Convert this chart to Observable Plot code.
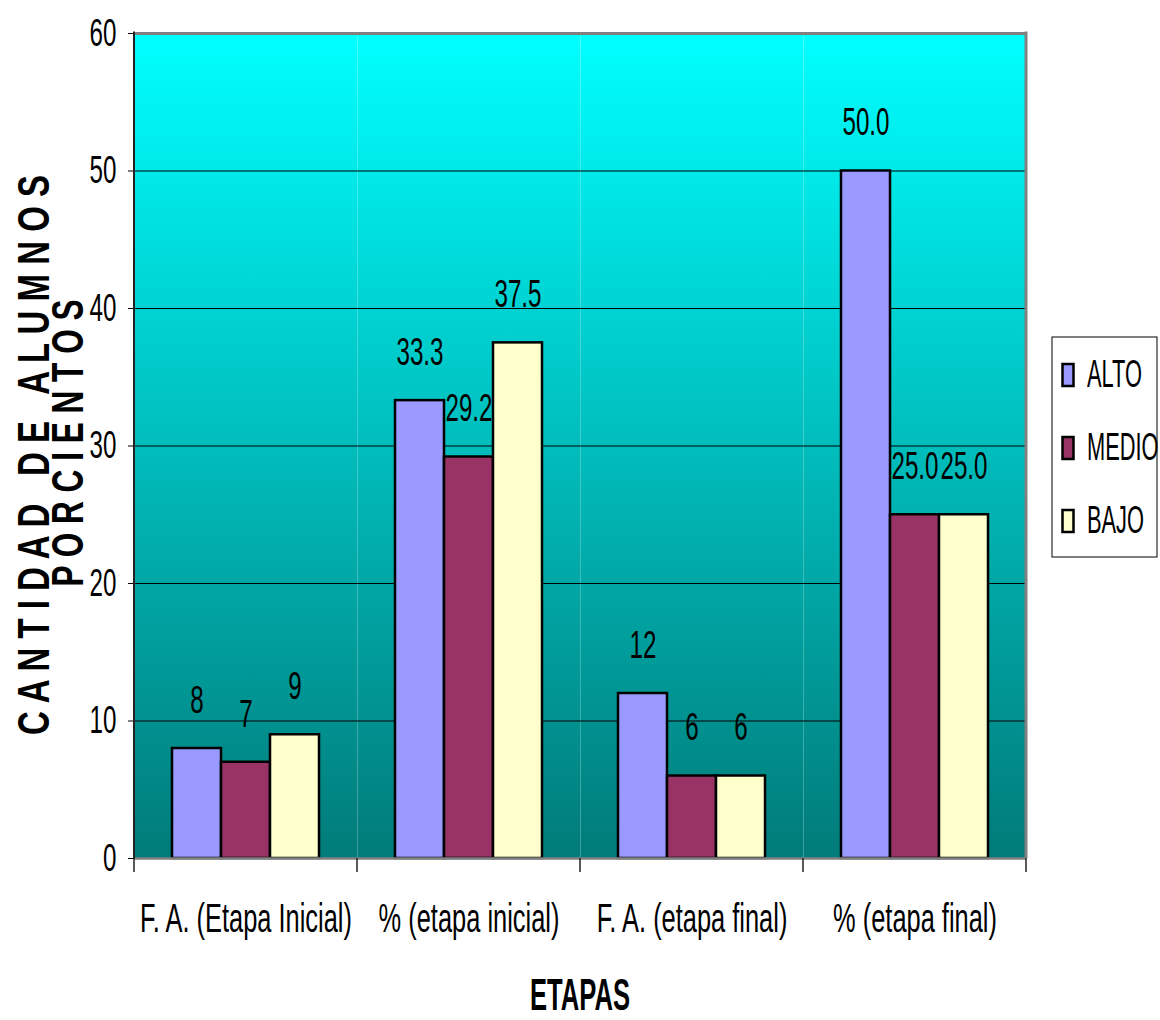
<!DOCTYPE html>
<html>
<head>
<meta charset="utf-8">
<script src="https://cdn.jsdelivr.net/npm/d3@7"></script>
<script src="https://cdn.jsdelivr.net/npm/@observablehq/plot@0.6"></script>
<style>
  body { margin: 0; background: #fff; }
  #chart { width: 1160px; height: 1020px; }
</style>
</head>
<body>
<div id="chart"></div>
<script>
const categories = ["F. A. (Etapa Inicial)", "% (etapa inicial)", "F. A. (etapa final)", "% (etapa final)"];
const seriesNames = ["ALTO", "MEDIO", "BAJO"];
const altoValues = [8, 33.3, 12, 50.0];
const medioValues = [7, 29.2, 6, 25.0];
const bajoValues = [9, 37.5, 6, 25.0];
const labelDecimals = [0, 1, 0, 1];
const seriesColors = ["#9999FF", "#993366", "#FFFFCC"];
const yTicks = [0, 10, 20, 30, 40, 50, 60];
const yTitle1 = "C A N T I D A D   D E   A L U M N O S";
const yTitle2 = "P O R C I E N T O S";
const xTitle = "ETAPAS";

const rows = [];
categories.forEach((c, i) => {
  [altoValues, medioValues, bajoValues].forEach((vals, j) => {
    rows.push({category: c, series: seriesNames[j], value: vals[i], label: vals[i].toFixed(labelDecimals[i])});
  });
});

const FONT = "'Liberation Sans', Arial, sans-serif";

const plot = Plot.plot({
  width: 1160,
  height: 1020,
  marginLeft: 133,
  marginRight: 133,
  marginTop: 33,
  marginBottom: 162,
  style: {fontFamily: FONT, background: "transparent", overflow: "visible"},
  fx: {domain: categories, padding: 0, label: null},
  x: {domain: seriesNames, paddingInner: 0, paddingOuter: 0.735, axis: null},
  y: {domain: [0, 60], label: null},
  color: {domain: seriesNames, range: seriesColors},
  marks: [
    Plot.frame({fill: "url(#bgGrad)", stroke: "none"}),
    Plot.gridY(yTicks.filter(t => t > 0 && t < 60), {stroke: "#000", strokeOpacity: 1, strokeWidth: 1}),
    Plot.ruleY([60], {stroke: "#808080", strokeWidth: 3}),
    Plot.barY(rows, {fx: "category", x: "series", y: "value", fill: "series", stroke: "#000", strokeWidth: 2.5}),
    Plot.ruleY([0], {stroke: "#808080", strokeWidth: 2.5}),
    Plot.text(rows, {fx: "category", x: "series", y: "value", text: "label", dy: -48, fontSize: 39, fill: "#000"}),
    Plot.axisY({ticks: yTicks, tickSize: 6, tickPadding: 12, fontSize: 39, label: null, color: "#000"}),
    Plot.axisFx({anchor: "bottom", tickSize: 0, tickPadding: 44, fontSize: 41, label: null, color: "#000"})
  ]
});

const svgEl = plot.tagName.toLowerCase() === "svg" ? plot : plot.querySelector("svg");
const svg = d3.select(svgEl);

// gradient background
const defs = svg.insert("defs", ":first-child");
const grad = defs.append("linearGradient").attr("id", "bgGrad")
  .attr("x1", 0).attr("y1", 0).attr("x2", 0).attr("y2", 1);
grad.append("stop").attr("offset", "0%").attr("stop-color", "#00FFFF");
grad.append("stop").attr("offset", "100%").attr("stop-color", "#007B79");

// condense glyphs of Plot texts (tall narrow lettering)
svg.selectAll("text").each(function() {
  const g = this.closest("g");
  const aria = g ? (g.getAttribute("aria-label") || "") : "";
  const k = aria.includes("fx-axis") ? 0.58 : 0.62;
  const t = this.getAttribute("transform") || "";
  this.setAttribute("transform", t + ` scale(${k},1)`);
});

// frame edges and category boundary ticks from the scales
let left = 133, right = 1027, step = 223.5, yTop = 33, yBottom = 858;
try {
  const fx = plot.scale("fx");
  const ys = plot.scale("y");
  left = fx.apply(categories[0]);
  step = fx.step || fx.bandwidth;
  right = fx.apply(categories[categories.length - 1]) + fx.bandwidth;
  yTop = ys.apply(60);
  yBottom = ys.apply(0);
} catch (e) {}

const edges = svg.append("g");
edges.append("line").attr("x1", right).attr("x2", right).attr("y1", yTop - 1.5).attr("y2", yBottom)
  .attr("stroke", "#808080").attr("stroke-width", 3);
edges.append("line").attr("x1", left).attr("x2", left).attr("y1", yTop - 1.5).attr("y2", yBottom + 1)
  .attr("stroke", "#222").attr("stroke-width", 2);
for (let i = 0; i <= categories.length; i++) {
  const xb = left + i * step;
  edges.append("line").attr("x1", xb).attr("x2", xb).attr("y1", yBottom).attr("y2", yBottom + 14)
    .attr("stroke", "#222").attr("stroke-width", 1.5);
}

// axis titles
const titles = svg.append("g").attr("font-family", FONT).attr("font-weight", "bold").attr("fill", "#000");
titles.append("text").text(yTitle1)
  .attr("transform", "translate(49,455) rotate(-90)")
  .attr("text-anchor", "middle").attr("font-size", 45)
  .attr("textLength", 560).attr("lengthAdjust", "spacingAndGlyphs");
titles.append("text").text(yTitle2)
  .attr("transform", "translate(83,443) rotate(-90)")
  .attr("text-anchor", "middle").attr("font-size", 45)
  .attr("textLength", 287).attr("lengthAdjust", "spacingAndGlyphs");
titles.append("text").text(xTitle)
  .attr("x", 580).attr("y", 1010)
  .attr("text-anchor", "middle").attr("font-size", 44)
  .attr("textLength", 100).attr("lengthAdjust", "spacingAndGlyphs");

// legend
const legend = svg.append("g").attr("font-family", FONT).attr("text-anchor", "start");
legend.append("rect").attr("x", 1052).attr("y", 337).attr("width", 105).attr("height", 220)
  .attr("fill", "#fff").attr("stroke", "#000").attr("stroke-width", 1);
seriesNames.forEach((s, j) => {
  const base = 387 + j * 73;
  legend.append("rect").attr("x", 1062.5).attr("y", base - 23).attr("width", 11).attr("height", 22)
    .attr("fill", seriesColors[j]).attr("stroke", "#000").attr("stroke-width", 2.5);
  legend.append("text").text(s)
    .attr("text-anchor", "start")
    .attr("transform", `translate(1087,${base}) scale(0.56,1)`)
    .attr("font-size", 39).attr("fill", "#000");
});

document.getElementById("chart").appendChild(plot);
</script>
</body>
</html>
